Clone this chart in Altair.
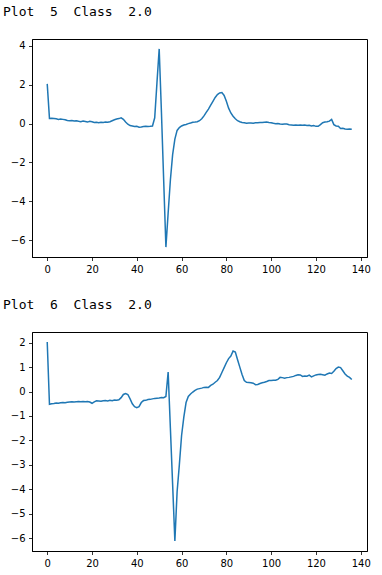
import altair as alt
import pandas as pd

# ECG traces
series_5 = [
    2.05, 0.27, 0.28, 0.27, 0.25, 0.22, 0.24, 0.22, 0.20, 0.16,
    0.15, 0.16, 0.14, 0.15, 0.12, 0.10, 0.13, 0.11, 0.08, 0.12,
    0.10, 0.06, 0.07, 0.05, 0.07, 0.06, 0.08, 0.07, 0.10, 0.15,
    0.20, 0.24, 0.26, 0.30, 0.22, 0.08, -0.03, -0.10, -0.12, -0.15,
    -0.14, -0.18, -0.17, -0.15, -0.14, -0.15, -0.14, -0.12, 0.30, 2.10,
    3.85, 0.60, -2.90, -6.36, -4.60, -2.90, -1.60, -0.80, -0.35, -0.20,
    -0.12, -0.07, -0.04, 0.00, 0.03, 0.07, 0.08, 0.10, 0.15, 0.25,
    0.40, 0.58, 0.75, 0.95, 1.15, 1.35, 1.50, 1.58, 1.60, 1.45,
    1.15, 0.80, 0.55, 0.38, 0.25, 0.15, 0.10, 0.06, 0.04, 0.02,
    0.03, 0.03, 0.02, 0.05, 0.04, 0.06, 0.06, 0.07, 0.08, 0.06,
    0.05, 0.02, 0.00, 0.01, -0.02, -0.03, -0.02, -0.02, -0.06, -0.07,
    -0.08, -0.07, -0.08, -0.07, -0.08, -0.07, -0.09, -0.08, -0.12, -0.10,
    -0.14, -0.14, -0.05, 0.05, 0.08, 0.10, 0.13, 0.22, -0.05, -0.12,
    -0.13, -0.25, -0.24, -0.28, -0.29, -0.28, -0.29,
]
series_6 = [
    2.03, -0.52, -0.50, -0.49, -0.47, -0.48, -0.46, -0.45, -0.46, -0.44,
    -0.43, -0.42, -0.43, -0.42, -0.41, -0.42, -0.41, -0.42, -0.41, -0.43,
    -0.48, -0.42, -0.38, -0.39, -0.40, -0.38, -0.37, -0.39, -0.36, -0.38,
    -0.35, -0.36, -0.34, -0.25, -0.12, -0.08, -0.12, -0.30, -0.50, -0.62,
    -0.66, -0.62, -0.45, -0.37, -0.36, -0.33, -0.32, -0.30, -0.28, -0.27,
    -0.26, -0.24, -0.25, -0.20, 0.80, -1.50, -3.80, -6.12, -4.10, -3.00,
    -1.80, -1.05, -0.45, -0.20, -0.10, -0.02, 0.05, 0.10, 0.12, 0.14,
    0.17, 0.18, 0.17, 0.25, 0.30, 0.38, 0.45, 0.58, 0.78, 0.98,
    1.18, 1.35, 1.45, 1.66, 1.62, 1.30, 1.00, 0.70, 0.45, 0.38,
    0.37, 0.36, 0.34, 0.28, 0.29, 0.33, 0.36, 0.38, 0.41, 0.45,
    0.45, 0.46, 0.46, 0.50, 0.58, 0.57, 0.55, 0.57, 0.58, 0.60,
    0.62, 0.66, 0.69, 0.68, 0.62, 0.64, 0.63, 0.67, 0.60, 0.64,
    0.68, 0.70, 0.71, 0.69, 0.67, 0.72, 0.76, 0.74, 0.83, 0.94,
    1.00, 0.98, 0.85, 0.72, 0.63, 0.58, 0.49,
]
titles = ["Plot  5  Class  2.0", "Plot  6  Class  2.0"]
x_ticks = [0, 20, 40, 60, 80, 100, 120, 140]
y_ticks_5 = [-6, -4, -2, 0, 2, 4]
y_ticks_6 = [-6, -5, -4, -3, -2, -1, 0, 1, 2]

def margin_domain(vals, frac=0.05):
    lo, hi = min(vals), max(vals)
    r = hi - lo
    return [lo - frac * r, hi + frac * r]

def panel(values, title, yticks, height):
    df = pd.DataFrame({"i": list(range(len(values))), "v": values})
    xdom = margin_domain([0, len(values) - 1])
    shown = title.replace(" ", "\u00a0")  # keep the double spaces visible
    return alt.Chart(df).mark_line(color="#1f77b4", strokeWidth=1.5).encode(
        x=alt.X("i:Q", scale=alt.Scale(domain=xdom, nice=False, zero=False),
                axis=alt.Axis(values=x_ticks, title=None, grid=False)),
        y=alt.Y("v:Q", scale=alt.Scale(domain=margin_domain(values), nice=False, zero=False),
                axis=alt.Axis(values=yticks, title=None, grid=False)),
    ).properties(
        width=335, height=height,
        title=alt.TitleParams(text=shown, anchor="start", frame="group", dx=-29,
                              offset=10, baseline="alphabetic",
                              font="DejaVu Sans Mono", fontSize=13,
                              fontWeight="normal", color="#000000"),
    )

chart = alt.vconcat(
    panel(series_5, titles[0], y_ticks_5, 218),
    panel(series_6, titles[1], y_ticks_6, 219),
    spacing=75, bounds="flush",
).properties(
    padding={"left": 2, "top": 5, "right": 5, "bottom": 5},
    background="#ffffff",
).configure_view(
    stroke="#000000", strokeWidth=1,
).configure_axis(
    grid=False, domainColor="#000000", domainWidth=1,
    tickColor="#000000", tickSize=3.5, tickWidth=0.8,
    labelFont="DejaVu Sans", labelFontSize=10, labelColor="#000000",
    labelPadding=3.5,
)

chart.save("out.html", embed_options={"renderer": "svg", "actions": False})
